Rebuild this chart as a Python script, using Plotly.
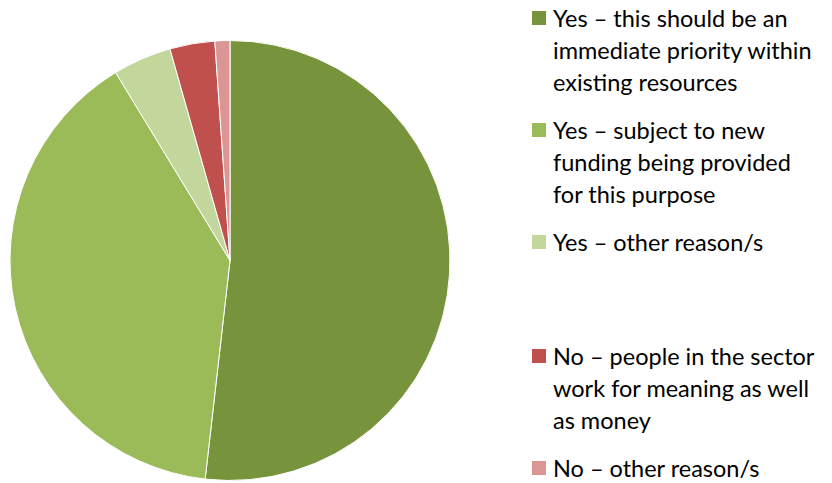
import plotly.graph_objects as go

labels = [
    "Yes – this should be an<br>immediate priority within<br>existing resources",
    "Yes – subject to new<br>funding being provided<br>for this purpose",
    "Yes – other reason/s",
    "No – people in the sector<br>work for meaning as well<br>as money",
    "No – other reason/s",
]
values = [51.8, 39.5, 4.3, 3.3, 1.1]
colors = ["#77933C", "#9BBB59", "#C3D69B", "#C0504D", "#D99694"]

W, H = 832, 483
fig = go.Figure(go.Pie(
    labels=labels, values=values, sort=False, direction="clockwise", rotation=0,
    marker=dict(colors=colors, line=dict(color="white", width=1)),
    textinfo="none", hoverinfo="label+percent", showlegend=False,
    domain=dict(x=[10 / W, 450 / W], y=[2 / H, 443 / H]),
))

item_top = [18, 130, 242, 356, 468]   # centre of first line (px from top)
line_gap = 32
annotations, shapes = [], []
for lab, col, yt in zip(labels, colors, item_top):
    shapes.append(dict(type="rect", xref="paper", yref="paper",
                       x0=532 / W, x1=546 / W, y0=1 - (yt + 7) / H, y1=1 - (yt - 7) / H,
                       fillcolor=col, line=dict(width=0)))
    for i, line in enumerate(lab.split("<br>")):
        annotations.append(dict(text=line, xref="paper", yref="paper", x=551 / W,
                                y=1 - (yt + i * line_gap) / H, xanchor="left", yanchor="middle",
                                showarrow=False, font=dict(family="Lato", size=23.5, color="#000000")))

fig.update_layout(width=W, height=H, margin=dict(l=0, r=0, t=0, b=0),
                  paper_bgcolor="white", plot_bgcolor="white",
                  annotations=annotations, shapes=shapes)
fig.write_html("out.html")
